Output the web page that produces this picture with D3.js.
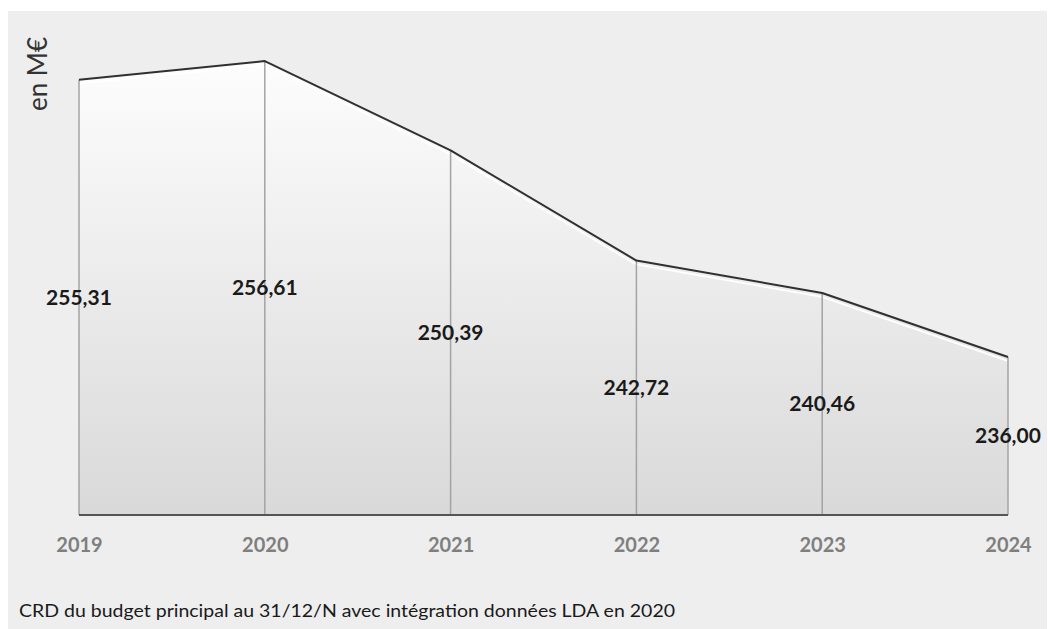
<!DOCTYPE html>
<html>
<head>
<meta charset="utf-8">
<script src="https://cdn.jsdelivr.net/npm/d3@7"></script>
<style>
  html, body { margin: 0; padding: 0; background: #ffffff; }
  svg { display: block; }
</style>
</head>
<body>
<svg id="chart" width="1048" height="629"></svg>
<script>
// Encours de la dette (CRD) du budget principal, en millions d'euros
const years = ["2019", "2020", "2021", "2022", "2023", "2024"];
const crdValues = [255.31, 256.61, 250.39, 242.72, 240.46, 236.00];
const valueLabels = ["255,31", "256,61", "250,39", "242,72", "240,46", "236,00"];
const yDomain = [225, 260];
const unitLabel = "en M€";
const caption = "CRD du budget principal au 31/12/N avec intégration données LDA en 2020";

const data = years.map((y, i) => ({ year: y, value: crdValues[i], label: valueLabels[i] }));

const svg = d3.select("#chart");
const fontFamily = "Lato, 'Open Sans', sans-serif";

// panel background
svg.append("rect")
  .attr("x", 8).attr("y", 11)
  .attr("width", 1039).attr("height", 618)
  .attr("fill", "#eeeeee");

const x = d3.scalePoint().domain(years).range([79, 1008]);
const y = d3.scaleLinear().domain(yDomain).range([515, 12.4]);
const baseY = y(yDomain[0]);

// vertical gradient for the area
const defs = svg.append("defs");
const grad = defs.append("linearGradient")
  .attr("id", "areaFill")
  .attr("gradientUnits", "userSpaceOnUse")
  .attr("x1", 0).attr("x2", 0)
  .attr("y1", y(d3.max(crdValues))).attr("y2", baseY);
grad.append("stop").attr("offset", "0%").attr("stop-color", "#fdfdfd");
grad.append("stop").attr("offset", "100%").attr("stop-color", "#d9d9d9");

const area = d3.area()
  .x(d => x(d.year))
  .y0(baseY)
  .y1(d => y(d.value));

const line = d3.line()
  .x(d => x(d.year))
  .y(d => y(d.value));

defs.append("clipPath").attr("id", "areaClip")
  .append("path").attr("d", area(data));

svg.append("path")
  .attr("d", area(data))
  .attr("fill", "url(#areaFill)");

// soft highlight just under the top edge
svg.append("path")
  .attr("d", line(data))
  .attr("clip-path", "url(#areaClip)")
  .attr("transform", "translate(0,3)")
  .attr("fill", "none")
  .attr("stroke", "#ffffff")
  .attr("stroke-width", 3.5)
  .attr("opacity", 1);

// drop lines
svg.append("g")
  .selectAll("line")
  .data(data)
  .join("line")
  .attr("x1", d => x(d.year)).attr("x2", d => x(d.year))
  .attr("y1", d => y(d.value)).attr("y2", baseY)
  .attr("stroke", "#a3a3a3")
  .attr("stroke-width", 1.5);

// baseline
svg.append("line")
  .attr("x1", x(years[0])).attr("x2", x(years[years.length - 1]))
  .attr("y1", baseY).attr("y2", baseY)
  .attr("stroke", "#555555")
  .attr("stroke-width", 2);

// top line
svg.append("path")
  .attr("d", line(data))
  .attr("fill", "none")
  .attr("stroke", "#303030")
  .attr("stroke-width", 2)
  .attr("stroke-linejoin", "round");

// x axis labels
const xAxis = d3.axisBottom(x).tickSize(0).tickPadding(0);
const axisG = svg.append("g")
  .attr("transform", `translate(0,${baseY + 37})`)
  .call(xAxis);
axisG.select(".domain").remove();
axisG.selectAll("text")
  .attr("dy", 0)
  .attr("font-family", fontFamily)
  .attr("font-size", 20)
  .attr("font-weight", "bold")
  .attr("fill", "#7f7f7f");

// value labels, centered in the area under each point
svg.append("g")
  .selectAll("text")
  .data(data)
  .join("text")
  .attr("x", d => x(d.year))
  .attr("y", d => (y(d.value) + baseY) / 2)
  .attr("dy", "0.35em")
  .attr("text-anchor", "middle")
  .attr("font-family", fontFamily)
  .attr("font-size", 21)
  .attr("font-weight", "bold")
  .attr("fill", "#1a1a1a")
  .text(d => d.label);

// unit label
svg.append("text")
  .attr("transform", "translate(47,74) rotate(-90)")
  .attr("text-anchor", "middle")
  .attr("font-family", fontFamily)
  .attr("font-size", 26)
  .attr("fill", "#333333")
  .text(unitLabel);

// caption
svg.append("text")
  .attr("x", 19)
  .attr("y", 617)
  .attr("font-family", fontFamily)
  .attr("font-size", 18)
  .attr("textLength", 656)
  .attr("lengthAdjust", "spacingAndGlyphs")
  .attr("fill", "#1a1a1a")
  .text(caption);
</script>
</body>
</html>
